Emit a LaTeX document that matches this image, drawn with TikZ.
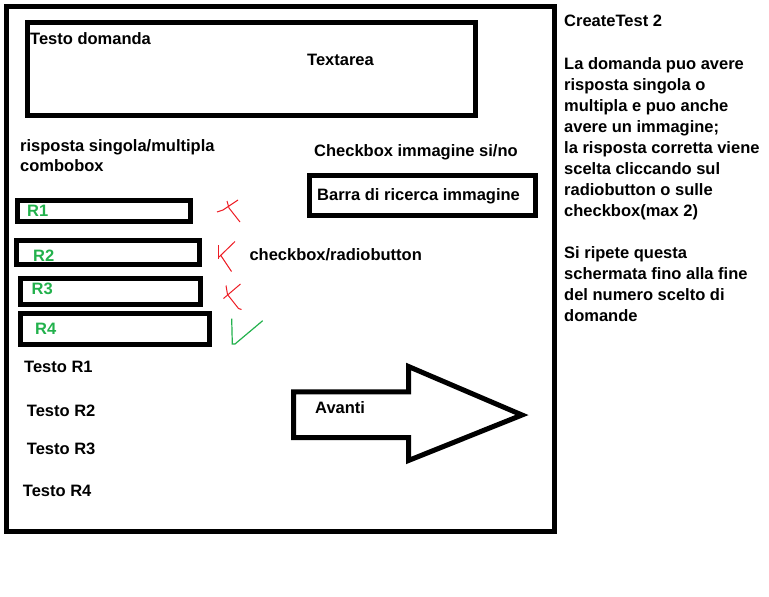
\documentclass[tikz,border=0pt]{standalone}
\usepackage{fontspec}
\setmainfont{Liberation Sans}
\definecolor{pgreen}{HTML}{22B14C}
\definecolor{pred}{HTML}{ED1C24}
\begin{document}
\begin{tikzpicture}[x=1pt,y=-1pt,
  frame/.style={draw=black,line width=5pt,inner sep=0pt},
  lbl/.style={anchor=base west,inner sep=0pt,font=\bfseries\fontsize{16.5}{21}\selectfont},
  rlbl/.style={lbl,text=pgreen},
  cross/.style={draw=pred,line width=1pt},
  tick/.style={draw=pgreen,line width=1.2pt}]
\useasboundingbox (0,0) rectangle (769,597);

% screen outline
\node[frame,minimum width=547.5pt,minimum height=525pt] (screen) at (280.25,269) {};

% question text area
\node[frame,minimum width=447.5pt,minimum height=93pt] (textarea) at (251.25,68.5) {};
\node[lbl] (qlabel) at (30,45) {Testo domanda};
\node[lbl] (talabel) at (307,65.5) {Textarea};

% answer type and image options
\node[lbl] (type) at (20,151.5) {risposta singola/multipla};
\node[lbl] (combo) at (20,171.5) {combobox};
\node[lbl] (imgcheck) at (314,156.5) {Checkbox immagine si/no};
\node[frame,minimum width=226pt,minimum height=40pt] (search) at (422.5,195.5) {};
\node[lbl] (searchlbl) at (317,200) {Barra di ricerca immagine};

% answer boxes
\node[frame,minimum width=173pt,minimum height=21pt] (r1) at (103.5,210.5) {};
\node[frame,minimum width=182.5pt,minimum height=24pt] (r2) at (107.75,252.5) {};
\node[frame,minimum width=180pt,minimum height=26pt] (r3) at (110.5,291.5) {};
\node[frame,minimum width=189pt,minimum height=31pt] (r4) at (115,329) {};
\node[rlbl] (r1l) at (27,216.7) {R1};
\node[rlbl] (r2l) at (33,261) {R2};
\node[rlbl] (r3l) at (31.5,294.3) {R3};
\node[rlbl] (r4l) at (35,334) {R4};

% correctness marks
\draw[cross] (238,200) -- (223,210) -- (217,212);
\draw[cross] (227,201) -- (229,208) -- (240,222);
\draw[cross] (235,241.5) -- (218.5,257.5);
\draw[cross] (218.5,245) -- (218.5,259);
\draw[cross] (220.5,255) -- (231.5,271.5);
\draw[cross] (240.5,284) -- (223.5,298.5);
\draw[cross] (226,285.5) -- (227.5,294.5) -- (238.5,308.5) -- (241.5,309.5);
\draw[tick] (231.7,318.7) -- (232.3,344) -- (235,344) -- (262.7,320.7);
\node[lbl] (mode) at (249.3,260.7) {checkbox/radiobutton};

% answer texts
\node[lbl] (t1) at (24,372.3) {Testo R1};
\node[lbl] (t2) at (26.7,416) {Testo R2};
\node[lbl] (t3) at (26.7,454.3) {Testo R3};
\node[lbl] (t4) at (22.7,496) {Testo R4};

% next button
\draw[frame,line join=miter]
  (293.5,391.8) -- (408.5,391.8) -- (408.5,366.5) -- (522,415)
  -- (408.5,460.5) -- (408.5,437.5) -- (293.5,437.5) -- cycle;
\node[lbl] (next) at (315,413.3) {Avanti};

% description
\foreach \y/\t [count=\i] in {
  27/CreateTest 2,
  69/La domanda puo avere,
  90/risposta singola o,
  111/multipla e puo anche,
  132/avere un immagine;,
  153/la risposta corretta viene,
  174/scelta cliccando sul,
  195/radiobutton o sulle,
  216/checkbox(max 2),
  258/Si ripete questa,
  279/schermata fino alla fine,
  300/del numero scelto di,
  321/domande}
  \node[lbl] (d\i) at (564,\y) {\t};
\end{tikzpicture}
\end{document}
